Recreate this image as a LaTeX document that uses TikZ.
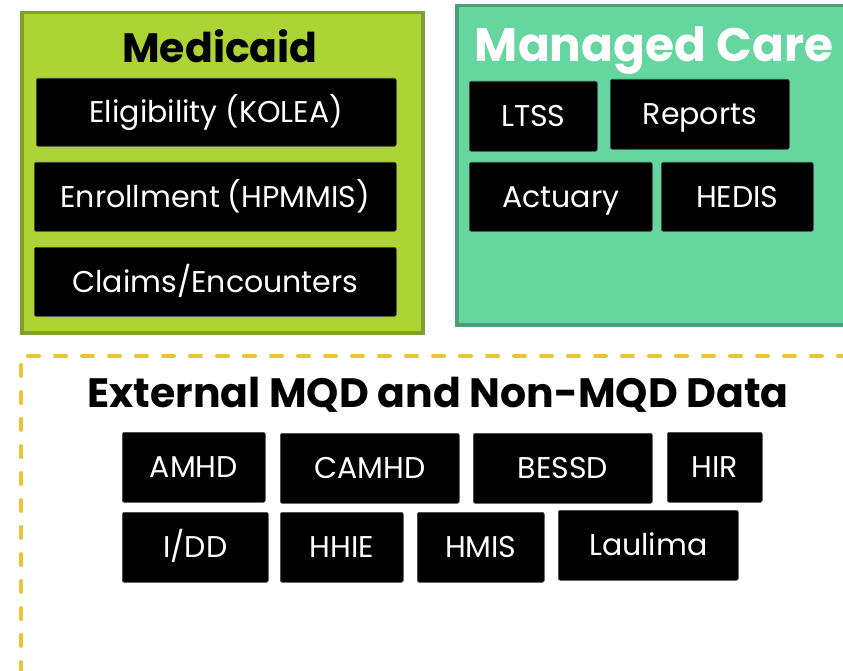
\documentclass[tikz,border=0pt]{standalone}
\usepackage{fontspec}
\setmainfont{Poppins}
\definecolor{medfill}{HTML}{ADD435}
\definecolor{medline}{HTML}{7FA030}
\definecolor{mcfill}{HTML}{66D6A0}
\definecolor{mcline}{HTML}{4C9E78}
\definecolor{dashy}{HTML}{EBC431}
\tikzset{
  blk/.style={fill=black, draw=black!70, line width=0.6pt, rounded corners=2pt, text=white, font=\fontsize{30}{30}\selectfont, inner sep=0pt, text height=21pt, text depth=0pt},
  medbox/.style={fill=medfill, draw=medline, line width=3.5pt},
  mcbox/.style={fill=mcfill, draw=mcline, line width=3.5pt},
  extbox/.style={draw=dashy, line width=4pt, line cap=round, dash pattern=on 11pt off 16pt},
  ttl/.style={font=\bfseries\fontsize{41}{41}\selectfont, anchor=base, inner sep=0pt}
}
\newcommand{\bx}[6]{\node[blk, minimum width=#4pt-#2pt, minimum height=#5pt-#3pt, anchor=north west] (#1) at (#2,#3) {#6};}
\begin{document}
\begin{tikzpicture}[x=1pt,y=-1pt]
\clip (0,0) rectangle (843,671);
\fill[white] (0,0) rectangle (843,671);
% containers
\node[medbox, minimum width=401pt, minimum height=320pt, anchor=north west, inner sep=0pt] (medicaid) at (20,11) {};
\node[mcbox, minimum width=420pt, minimum height=319pt, anchor=north west, inner sep=0pt] (managed) at (455,4) {};
\draw[extbox] (21,700) -- (21,356) -- (900,356);
\coordinate (external) at (21,356);
% titles
\node[ttl] (medt) at (220,63) {Medicaid};
\node[ttl, text=white, font=\bfseries\fontsize{47}{47}\selectfont] (mct) at (654,62) {Managed Care};
\node[ttl] (extt) at (438,407) {External MQD and Non-MQD Data};
% Medicaid boxes
\bx{elig}{36}{78}{396}{146}{Eligibility (KOLEA)}
\bx{enr}{34}{162}{396}{231}{Enrollment (HPMMIS)}
\bx{clm}{34}{247}{396}{316}{Claims/Encounters}
% Managed care boxes
\bx{ltss}{469}{81}{597}{151}{LTSS}
\bx{rep}{610}{79}{789}{149}{Reports}
\bx{act}{469}{162}{652}{231}{Actuary}
\bx{hed}{661}{162}{813}{231}{HEDIS}
% External boxes
\bx{amhd}{122}{432}{265}{502}{AMHD}
\bx{camhd}{280}{433}{459}{503}{CAMHD}
\bx{bessd}{473}{433}{652}{503}{BESSD}
\bx{hir}{667}{432}{762}{502}{HIR}
\bx{idd}{122}{512}{268}{582}{I/DD}
\bx{hhie}{280}{512}{403}{582}{HHIE}
\bx{hmis}{417}{512}{544}{582}{HMIS}
\bx{laul}{558}{510}{738}{580}{Laulima}
\end{tikzpicture}
\end{document}
